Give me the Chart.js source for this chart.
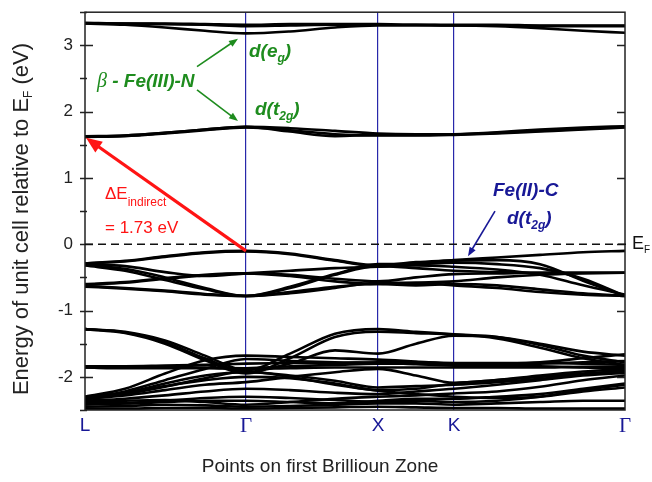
<!DOCTYPE html>
<html>
<head>
<meta charset="utf-8">
<script src="https://cdn.jsdelivr.net/npm/chart.js@4.4.0/dist/chart.umd.min.js"></script>
<style>
  html, body { margin: 0; padding: 0; background: #fff; }
</style>
</head>
<body>
<canvas id="myChart" width="652" height="482"></canvas>
<script>
  // k-path positions (distance along L - Γ - X - K - Γ)
  const kPoints = [0, 40, 80, 120, 161, 205, 250, 293, 331, 369, 412, 455, 498, 540];
  const kTickPos = [0, 161, 293, 369, 540];
  const kTickLabels = ['L', 'Γ', 'X', 'K', 'Γ'];
  const eTicks = [-2, -1, 0, 1, 2, 3];

  // β-Fe(III)-N d(eg)
  const egBands = [
    [3.33, 3.33, 3.32, 3.31, 3.29, 3.30, 3.31, 3.31, 3.31, 3.30, 3.30, 3.29, 3.29, 3.29],
    [3.33, 3.31, 3.27, 3.22, 3.18, 3.21, 3.27, 3.30, 3.30, 3.30, 3.29, 3.26, 3.22, 3.19],
    [3.34, 3.33, 3.33, 3.32, 3.31, 3.32, 3.32, 3.32, 3.31, 3.31, 3.31, 3.30, 3.30, 3.30]
  ];
  // β-Fe(III)-N d(t2g)
  const t2gBands = [
    [1.62, 1.64, 1.68, 1.73, 1.77, 1.75, 1.71, 1.67, 1.66, 1.66, 1.68, 1.71, 1.74, 1.77],
    [1.62, 1.63, 1.67, 1.72, 1.76, 1.72, 1.66, 1.64, 1.64, 1.65, 1.67, 1.70, 1.73, 1.76],
    [1.63, 1.64, 1.68, 1.73, 1.77, 1.70, 1.63, 1.65, 1.65, 1.66, 1.69, 1.73, 1.76, 1.78]
  ];
  // Fe(II)-C d(t2g), just below EF
  const feCBands = [
    [-0.29, -0.25, -0.18, -0.12, -0.10, -0.14, -0.24, -0.32, -0.27, -0.24, -0.20, -0.16, -0.12, -0.10],
    [-0.29, -0.26, -0.19, -0.13, -0.11, -0.15, -0.25, -0.33, -0.29, -0.25, -0.24, -0.30, -0.55, -0.78],
    [-0.31, -0.37, -0.50, -0.66, -0.78, -0.66, -0.46, -0.33, -0.36, -0.40, -0.42, -0.43, -0.43, -0.43],
    [-0.32, -0.40, -0.54, -0.68, -0.78, -0.64, -0.45, -0.30, -0.30, -0.28, -0.30, -0.36, -0.52, -0.78],
    [-0.60, -0.57, -0.51, -0.46, -0.44, -0.46, -0.52, -0.56, -0.50, -0.45, -0.44, -0.43, -0.43, -0.43],
    [-0.61, -0.58, -0.52, -0.47, -0.44, -0.48, -0.56, -0.60, -0.58, -0.56, -0.50, -0.46, -0.44, -0.43],
    [-0.63, -0.66, -0.70, -0.75, -0.78, -0.72, -0.64, -0.60, -0.62, -0.60, -0.62, -0.68, -0.74, -0.78],
    [-0.64, -0.67, -0.71, -0.76, -0.78, -0.74, -0.66, -0.58, -0.58, -0.62, -0.66, -0.72, -0.76, -0.78],
    [-0.30, -0.33, -0.42, -0.48, -0.44, -0.40, -0.36, -0.34, -0.32, -0.34, -0.38, -0.46, -0.62, -0.76]
  ];
  // deeper valence bands
  const lowerBands = [
    [-1.28, -1.32, -1.45, -1.68, -1.90, -1.65, -1.35, -1.28, -1.32, -1.36, -1.40, -1.52, -1.68, -1.78],
    [-1.28, -1.34, -1.50, -1.75, -1.95, -1.72, -1.40, -1.32, -1.34, -1.36, -1.42, -1.56, -1.72, -1.82],
    [-1.28, -1.33, -1.48, -1.72, -1.93, -1.80, -1.60, -1.65, -1.50, -1.38, -1.40, -1.50, -1.62, -1.68],
    [-1.86, -1.86, -1.85, -1.86, -1.87, -1.84, -1.82, -1.80, -1.80, -1.81, -1.80, -1.78, -1.72, -1.66],
    [-1.86, -1.87, -1.87, -1.87, -1.88, -1.87, -1.86, -1.86, -1.86, -1.86, -1.86, -1.86, -1.85, -1.85],
    [-1.84, -1.84, -1.83, -1.82, -1.80, -1.79, -1.79, -1.78, -1.78, -1.79, -1.79, -1.79, -1.80, -1.82],
    [-2.30, -2.18, -1.95, -1.75, -1.68, -1.70, -1.72, -1.74, -1.77, -1.80, -1.80, -1.80, -1.78, -1.76],
    [-2.32, -2.22, -2.05, -1.88, -1.73, -1.76, -1.78, -1.79, -1.81, -1.83, -1.84, -1.84, -1.86, -1.88],
    [-2.30, -2.25, -2.14, -2.05, -2.00, -2.02, -2.10, -2.20, -2.18, -2.10, -2.05, -1.98, -1.92, -1.88],
    [-2.31, -2.24, -2.10, -1.98, -1.93, -1.98, -2.06, -2.16, -2.14, -2.12, -2.08, -2.03, -1.96, -1.90],
    [-2.33, -2.28, -2.20, -2.12, -2.08, -2.00, -1.93, -1.88, -1.98, -2.09, -2.05, -2.00, -1.95, -1.92],
    [-2.36, -2.33, -2.28, -2.22, -2.18, -2.20, -2.24, -2.26, -2.22, -2.18, -2.12, -2.05, -1.98, -1.94],
    [-2.34, -2.26, -2.15, -2.02, -1.92, -2.00, -2.12, -2.21, -2.26, -2.30, -2.32, -2.30, -2.22, -2.16],
    [-2.38, -2.36, -2.35, -2.38, -2.42, -2.38, -2.33, -2.30, -2.28, -2.25, -2.22, -2.15, -2.05, -1.98],
    [-2.40, -2.40, -2.38, -2.36, -2.36, -2.38, -2.40, -2.36, -2.33, -2.33, -2.30, -2.26, -2.18, -2.10],
    [-2.42, -2.40, -2.36, -2.32, -2.30, -2.32, -2.35, -2.38, -2.36, -2.38, -2.36, -2.30, -2.20, -2.12],
    [-2.45, -2.44, -2.42, -2.43, -2.45, -2.44, -2.42, -2.40, -2.40, -2.42, -2.40, -2.38, -2.36, -2.36],
    [-2.48, -2.48, -2.47, -2.47, -2.48, -2.47, -2.46, -2.45, -2.46, -2.47, -2.47, -2.48, -2.48, -2.48]
  ];

  const allBands = egBands.concat(t2gBands, feCBands, lowerBands);

  const datasets = allBands.map(function (band) {
    return {
      data: band.map(function (e, i) { return { x: kPoints[i], y: e }; }),
      borderColor: '#000',
      borderWidth: 2.6,
      pointRadius: 0,
      fill: false,
      cubicInterpolationMode: 'monotone'
    };
  });

  const GREEN = 'rgb(30,140,30)';
  const NAVY = 'rgb(24,24,150)';
  const RED = 'rgb(255,20,20)';

  function arrow(ctx, x1, y1, x2, y2, color, width, hl, hw) {
    const a = Math.atan2(y2 - y1, x2 - x1);
    ctx.save();
    ctx.strokeStyle = color;
    ctx.fillStyle = color;
    ctx.lineWidth = width;
    ctx.beginPath();
    ctx.moveTo(x1, y1);
    ctx.lineTo(x2 - Math.cos(a) * hl * 0.8, y2 - Math.sin(a) * hl * 0.8);
    ctx.stroke();
    ctx.beginPath();
    ctx.moveTo(x2, y2);
    ctx.lineTo(x2 - Math.cos(a) * hl + Math.sin(a) * hw / 2, y2 - Math.sin(a) * hl - Math.cos(a) * hw / 2);
    ctx.lineTo(x2 - Math.cos(a) * hl - Math.sin(a) * hw / 2, y2 - Math.sin(a) * hl + Math.cos(a) * hw / 2);
    ctx.closePath();
    ctx.fill();
    ctx.restore();
  }

  // draws text parts [text, isSub] starting at x, middle baseline y
  function rich(ctx, parts, x, y, font, subFont, color, subDy) {
    ctx.save();
    ctx.fillStyle = color;
    ctx.textBaseline = 'middle';
    ctx.textAlign = 'left';
    parts.forEach(function (p) {
      ctx.font = p[1] ? subFont : font;
      ctx.fillText(p[0], x, p[1] ? y + subDy : y);
      x += ctx.measureText(p[0]).width;
    });
    ctx.restore();
    return x;
  }

  function richWidth(ctx, parts, font, subFont) {
    let w = 0;
    ctx.save();
    parts.forEach(function (p) {
      ctx.font = p[1] ? subFont : font;
      w += ctx.measureText(p[0]).width;
    });
    ctx.restore();
    return w;
  }

  const decor = {
    id: 'decor',
    afterDraw: function (chart) {
      const ctx = chart.ctx;
      const xs = chart.scales.x, ys = chart.scales.y;
      const ca = chart.chartArea;
      const px = function (k) { return xs.getPixelForValue(k); };
      const py = function (e) { return ys.getPixelForValue(e); };

      ctx.save();
      // frame
      ctx.strokeStyle = '#222';
      ctx.lineWidth = 1.5;
      ctx.strokeRect(ca.left, ca.top, ca.right - ca.left, ca.bottom - ca.top);

      // y ticks: left crossing major + minor, right inward major
      for (let v = -2.5; v <= 3.5; v += 0.5) {
        const y = Math.round(py(v)) + 0.5;
        const major = Math.abs(v - Math.round(v)) < 1e-6;
        ctx.beginPath();
        ctx.moveTo(ca.left - 5, y);
        ctx.lineTo(ca.left + (major ? 8 : 2), y);
        if (major) {
          ctx.moveTo(ca.right - 8, y);
          ctx.lineTo(ca.right, y);
        }
        ctx.stroke();
      }

      // Fermi level
      ctx.setLineDash([8, 5]);
      ctx.lineWidth = 1.5;
      ctx.strokeStyle = '#111';
      ctx.beginPath();
      ctx.moveTo(ca.left, py(0));
      ctx.lineTo(ca.right + 5, py(0));
      ctx.stroke();
      ctx.setLineDash([]);
      rich(ctx, [['E', false], ['F', true]], ca.right + 7, py(0), '18px "Liberation Sans"', '10px "Liberation Sans"', '#111', 6);

      // indirect gap arrow (top of valence at Γ to bottom of conduction at L)
      arrow(ctx, px(kTickPos[1]), py(feCBands[0][4]), px(kTickPos[0]) + 1, py(t2gBands[0][0]) + 1, RED, 3.2, 16, 13);
      rich(ctx, [['ΔE', false], ['indirect', true]], px(20), py(0.75), '17px "Liberation Sans"', '12px "Liberation Sans"', RED, 8);
      rich(ctx, [['= 1.73 eV', false]], px(20), py(0.24), '17px "Liberation Sans"', '12px "Liberation Sans"', RED, 8);

      // β-Fe(III)-N labels
      const gf = 'italic bold 19px "Liberation Sans"';
      const gs = 'italic bold 12px "Liberation Sans"';
      let xb = rich(ctx, [['β', false]], px(12), py(2.45), 'italic 20px "Liberation Serif"', gs, GREEN, 6);
      rich(ctx, [[' - Fe(III)-N', false]], xb, py(2.45), gf, gs, GREEN, 6);
      rich(ctx, [['d(e', false], ['g', true], [')', false]], px(164), py(2.9), gf, gs, GREEN, 7);
      rich(ctx, [['d(t', false], ['2g', true], [')', false]], px(170), py(2.03), gf, gs, GREEN, 7);
      arrow(ctx, px(112), py(2.68), px(153), py(3.10), GREEN, 1.6, 9, 7);
      arrow(ctx, px(112), py(2.33), px(153), py(1.86), GREEN, 1.6, 9, 7);

      // Fe(II)-C label
      rich(ctx, [['Fe(II)-C', false]], px(408), py(0.8), gf, gs, NAVY, 7);
      rich(ctx, [['d(t', false], ['2g', true], [')', false]], px(422), py(0.38), gf, gs, NAVY, 7);
      arrow(ctx, px(410), py(0.5), px(383), py(-0.18), NAVY, 1.6, 9, 7);

      // axis titles
      const tf = '22px "Liberation Sans"', tsf = '12px "Liberation Sans"';
      const yParts = [['Energy of unit cell relative to E', false], ['F', true], [' (eV)', false]];
      const yw = richWidth(ctx, yParts, tf, tsf);
      ctx.translate(22, 219);
      ctx.rotate(-Math.PI / 2);
      rich(ctx, yParts, -yw / 2, 0, tf, tsf, '#222', 7);
      ctx.setTransform(1, 0, 0, 1, 0, 0);
      ctx.fillStyle = '#222';
      ctx.font = '19px "Liberation Sans"';
      ctx.textAlign = 'center';
      ctx.textBaseline = 'middle';
      ctx.fillText('Points on first Brillioun Zone', 320, 467);
      ctx.restore();
    }
  };

  const config = {
    type: 'line',
    data: { datasets: datasets },
    options: {
      responsive: false,
      animation: false,
      layout: { padding: { top: 2, right: 27, left: 0, bottom: 0 } },
      plugins: {
        legend: { display: false },
        tooltip: { enabled: false }
      },
      scales: {
        x: {
          type: 'linear',
          min: 0,
          max: 540,
          afterFit: function (s) { s.height = 72; },
          afterBuildTicks: function (s) {
            s.ticks = kTickPos.map(function (v) { return { value: v }; });
          },
          grid: {
            color: function (c) {
              return (c.index === 0 || c.index === kTickPos.length - 1) ? 'rgba(0,0,0,0)' : 'rgb(40,40,170)';
            },
            lineWidth: 1.2,
            drawTicks: false
          },
          border: { display: false },
          ticks: {
            autoSkip: false,
            maxRotation: 0,
            padding: 4,
            color: NAVY,
            font: function (c) {
              return kTickLabels[c.index] === 'Γ'
                ? { family: 'Liberation Serif', size: 21 }
                : { family: 'Liberation Sans', size: 19 };
            },
            callback: function (v, i) { return kTickLabels[i]; }
          }
        },
        y: {
          min: -2.5,
          max: 3.5,
          afterFit: function (s) { s.width = 85; },
          afterBuildTicks: function (s) {
            s.ticks = eTicks.map(function (v) { return { value: v }; });
          },
          grid: {
            display: true,
            drawOnChartArea: false,
            drawTicks: true,
            tickLength: 10,
            tickColor: 'rgba(0,0,0,0)'
          },
          border: { display: false },
          ticks: {
            padding: 2,
            color: '#222',
            font: { family: 'Liberation Sans', size: 17 }
          }
        }
      }
    },
    plugins: [decor]
  };

  var myChart = new Chart(document.getElementById('myChart'), config);
</script>
</body>
</html>
